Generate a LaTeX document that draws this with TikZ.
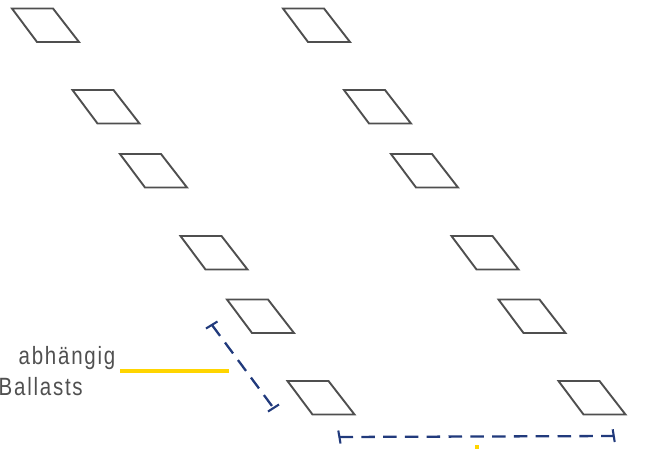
\documentclass[tikz,border=0pt]{standalone}
\usepackage{fontspec}
\setmainfont[FakeStretch=0.82,LetterSpace=7]{Liberation Sans}
\definecolor{plategrey}{HTML}{4F4F4F}
\definecolor{dimblue}{HTML}{213A7C}
\definecolor{leaderyellow}{HTML}{FFD500}
\definecolor{labelgrey}{HTML}{505050}
\tikzset{
  plate/.style={draw=plategrey,line width=1.9pt,line join=miter},
  dimline/.style={draw=dimblue,line width=2.3pt,dash pattern=on 13.5pt off 8.3pt},
  dimbar/.style={draw=dimblue,line width=2.1pt},
  leader/.style={draw=leaderyellow,line width=3.6pt},
  lbl/.style={text=labelgrey,font=\fontsize{25}{25}\selectfont,inner sep=0pt}
}
\begin{document}
\begin{tikzpicture}[x=1pt,y=-1pt]
\useasboundingbox (0,0) rectangle (646,448);
\clip (0,0) rectangle (646,448);
\foreach \px/\py in {12/8.5,72.5/90,120/154,180.5/236,227/299.5,287.5/381,
                     283/8.5,344/90,391/154,451.5/236,498.5/299.5,558.5/381}{
  \draw[plate] (\px,\py) -- ++(41,0) -- ++(26,33.5) -- ++(-42,0) -- cycle;
}
% slanted dimension
\coordinate (da) at (212,325);
\coordinate (db) at (273.5,408);
\draw[dimline] (da) -- (db);
\draw[dimbar] (206,328.5) -- (217.5,321.5);
\draw[dimbar] (268,411.5) -- (279,404.5);
% horizontal dimension
\coordinate (dc) at (339.5,437);
\coordinate (dd) at (613.5,436);
\draw[dimline] (dc) -- (dd);
\draw[dimbar] (338.3,430.5) -- (340.5,443.5);
\draw[dimbar] (612.7,429.3) -- (614.7,442);
% leaders
\coordinate (la) at (120,371);
\coordinate (lb) at (229,371);
\draw[leader] (la) -- (lb);
\coordinate (lc) at (476.8,445);
\coordinate (ld) at (476.8,452);
\draw[leader] (lc) -- (ld);
% labels
\node[lbl,anchor=base east] (t1) at (115.5,364.5) {abhängig};
\node[lbl,anchor=base west] (t2) at (-1.5,395.5) {Ballasts};
\end{tikzpicture}
\end{document}
